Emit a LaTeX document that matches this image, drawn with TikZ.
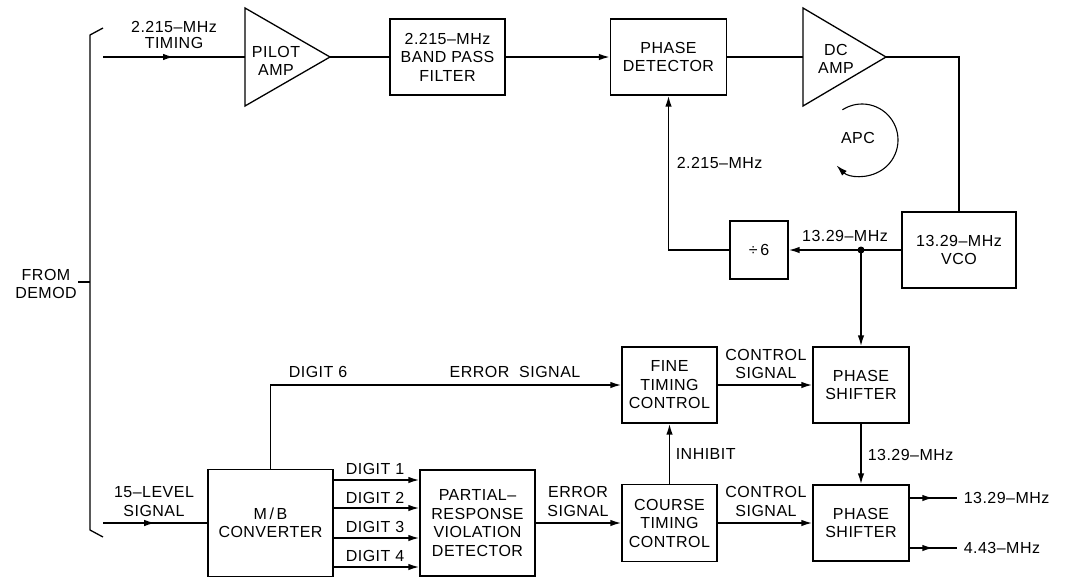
\documentclass[tikz,border=0pt]{standalone}
\usepackage{fontspec}
\setmainfont{Liberation Sans}[LetterSpace=3]
\usetikzlibrary{arrows.meta,decorations.markings}
\begin{document}
\begin{tikzpicture}[x=1pt,y=-1pt,
  font=\fontsize{16}{18.5}\selectfont,
  line width=1.6pt,
  box/.style={draw,line width=1.3pt,align=center,inner sep=0pt},
  lbl/.style={align=center,inner sep=0pt},
  tri/.style={draw,line width=1.3pt},
  arr/.style={-{Latex[length=11pt,width=6.5pt]}},
  midarr/.style={postaction={decorate},decoration={markings,mark=at position #1 with {\arrow{Latex[length=11pt,width=6.5pt]}}}}
]
\path[use as bounding box] (0,0) rectangle (1073,584);

% bracket
\draw[line width=1.3pt] (103,28) -- (90,35) -- (90,530) -- (103,537);
\draw[line width=1.3pt] (78,282) -- (90,282);
\node[lbl] (from) at (46,284) {FROM\\DEMOD};

% top chain
\draw[tri] (245,8) -- (330,57) -- (245,106) -- cycle;
\coordinate (pa-in) at (245,57);
\coordinate (pa-out) at (330,57);
\node[lbl] (pa) at (276,61) {PILOT\\AMP};

\node[box,minimum width=115pt,minimum height=76pt] (bpf) at (447.5,57) {2.215–MHz\\BAND PASS\\FILTER};
\node[box,minimum width=116pt,minimum height=76pt] (pd) at (668.5,57) {PHASE\\DETECTOR};

\draw[tri] (803,8) -- (886,57) -- (803,106) -- cycle;
\coordinate (dca-in) at (803,57);
\coordinate (dca-out) at (886,57);
\node[lbl] (dca) at (836,59) {DC\\AMP};

\node[box,minimum width=114pt,minimum height=76pt] (vco) at (959,250) {13.29–MHz\\VCO};
\node[box,minimum width=58pt,minimum height=58pt] (div) at (759,250) {÷\,6};
\coordinate (dot) at (861,250);

\coordinate (in1) at (103,57);
\draw[midarr=0.5] (in1) -- (pa-in);
\node[lbl] (l-timing) at (174,35) {2.215–MHz\\[-2.5pt]TIMING};
\draw (pa-out) -- (bpf.west);
\draw[arr] (bpf.east) -- (pd.west);
\draw (pd.east) -- (dca-in);
\draw (dca-out) -| (vco.north);
\draw[arr] (vco.west) -- (div.east);
\fill (dot) circle (3.5pt);
\draw[arr] (div.west) -| (pd.south);
\node[lbl,anchor=west] (l-2215) at (676,163) {2.215–MHz};
\node[lbl] (l-1329a) at (845,236) {13.29–MHz};

% APC
\draw[line width=1.1pt,arr] (842.4,109.8) arc[start angle=123,end angle=-135,radius=36pt];
\node[lbl] (apc) at (858,138) {APC};

% bottom chain
\node[box,minimum width=125pt,minimum height=107pt] (mb) at (270.5,523) {M\,/\,B\\CONVERTER};
\node[box,minimum width=115pt,minimum height=106pt] (prvd) at (477.5,523) {PARTIAL–\\RESPONSE\\VIOLATION\\DETECTOR};
\node[box,minimum width=95pt,minimum height=77pt] (ctc) at (669.5,523) {COURSE\\TIMING\\CONTROL};
\node[box,minimum width=95pt,minimum height=76pt] (ftc) at (669.5,385) {FINE\\TIMING\\CONTROL};
\node[box,minimum width=96pt,minimum height=76pt] (ps1) at (861,385) {PHASE\\SHIFTER};
\node[box,minimum width=96pt,minimum height=76pt] (ps2) at (861,523) {PHASE\\SHIFTER};

\draw[arr] (dot) -- (ps1.north);

\coordinate (in2) at (103,523);
\draw[midarr=0.5] (in2) -- (mb.west);
\node[lbl] (l-15) at (154,501.5) {15–LEVEL\\SIGNAL};

\coordinate (y1) at (0,480);
\coordinate (y2) at (0,508);
\coordinate (y3) at (0,538);
\coordinate (y4) at (0,567);
\draw[arr] (mb.east |- y1) -- (prvd.west |- y1);
\draw[arr] (mb.east |- y2) -- (prvd.west |- y2);
\draw[arr] (mb.east |- y3) -- (prvd.west |- y3);
\draw[arr] (mb.east |- y4) -- (prvd.west |- y4);
\node[lbl] (d1) at (375,469) {DIGIT 1};
\node[lbl] (d2) at (375,498) {DIGIT 2};
\node[lbl] (d3) at (375,527) {DIGIT 3};
\node[lbl] (d4) at (375,556) {DIGIT 4};

\draw[arr] (mb.north) |- (ftc.west);
\node[lbl] (d6) at (318,372) {DIGIT 6};
\node[lbl] (err1) at (515,372) {ERROR\ \ SIGNAL};

\draw[arr] (prvd.east) -- (ctc.west);
\node[lbl] (err2) at (578,501.5) {ERROR\\SIGNAL};

\draw[arr] (ctc.north) -- (ftc.south);
\node[lbl,anchor=west] (inh) at (675,454) {INHIBIT};

\draw[arr] (ftc.east) -- (ps1.west);
\node[lbl] (cs1) at (766,364) {CONTROL\\SIGNAL};

\draw[arr] (ctc.east) -- (ps2.west);
\node[lbl] (cs2) at (766,501.5) {CONTROL\\SIGNAL};

\draw[arr] (ps1.south) -- (ps2.north);
\node[lbl,anchor=west] (l-1329b) at (867,455) {13.29–MHz};

\coordinate (o1) at (957,498);
\coordinate (o2) at (957,548);
\draw[midarr=0.5] (ps2.east |- o1) -- (o1);
\draw[midarr=0.5] (ps2.east |- o2) -- (o2);
\node[lbl,anchor=west] (l-o1) at (963,498) {13.29–MHz};
\node[lbl,anchor=west] (l-o2) at (963,548) {4.43–MHz};
\end{tikzpicture}
\end{document}
